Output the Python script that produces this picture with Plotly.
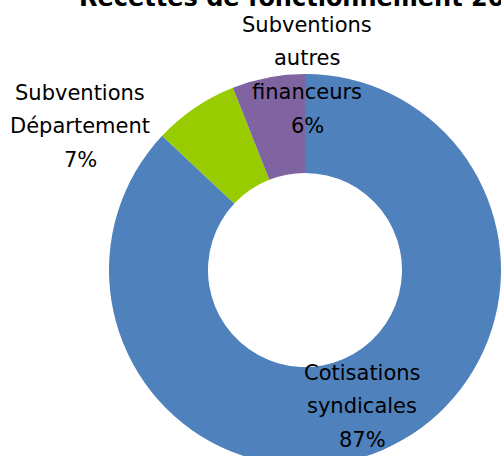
import plotly.graph_objects as go

# ---- data ----
categories = ["Cotisations syndicales", "Subventions Département", "Subventions autres financeurs"]
values = [87, 7, 6]
colors = ["#4F81BD", "#99CC00", "#8064A2"]
title_text = "Recettes de fonctionnement 20"

# label line breaks (per category) and block positions (pixels: centre x, first baseline y)
label_lines = [["Cotisations", "syndicales"], ["Subventions", "Département"], ["Subventions", "autres", "financeurs"]]
label_pos = [(362, 380), (80, 100), (307, 32)]
line_gap = 33.7

W, H = 501, 470
cx, cy, R = 305, 270, 196

fig = go.Figure(go.Pie(
    labels=categories, values=values, sort=False, direction="clockwise", rotation=0,
    hole=0.495, marker=dict(colors=colors, line=dict(width=0)), textinfo="none",
    hoverinfo="label+percent", showlegend=False,
    domain=dict(x=[(cx - R) / W, min(1, (cx + R) / W)], y=[1 - (cy + R) / H, 1 - (cy - R) / H]),
))

total = sum(values)
annotations = []
font = dict(family="DejaVu Sans", size=21, color="black")
for lines, v, (px, py) in zip(label_lines, values, label_pos):
    all_lines = lines + [f"{round(v / total * 100)}%"]
    for i, t in enumerate(all_lines):
        base = py + i * line_gap
        annotations.append(dict(text=t, x=px / W, y=1 - (base - 7.3) / H, xref="paper", yref="paper",
                                xanchor="center", yanchor="middle", showarrow=False, font=font))

annotations.append(dict(text="<b>" + title_text + "</b>", x=77 / W, y=1 - (6 - 8.5) / H,
                        xref="paper", yref="paper", xanchor="left", yanchor="middle", showarrow=False,
                        font=dict(family="DejaVu Sans", size=24, color="black")))

fig.update_layout(width=W, height=H, margin=dict(l=0, r=0, t=0, b=0), paper_bgcolor="white",
                  plot_bgcolor="white", annotations=annotations)

fig.write_html("out.html", config={"displayModeBar": False},
               post_script="document.body.style.margin='0';document.body.style.overflow='hidden';document.documentElement.style.overflow='hidden';")
